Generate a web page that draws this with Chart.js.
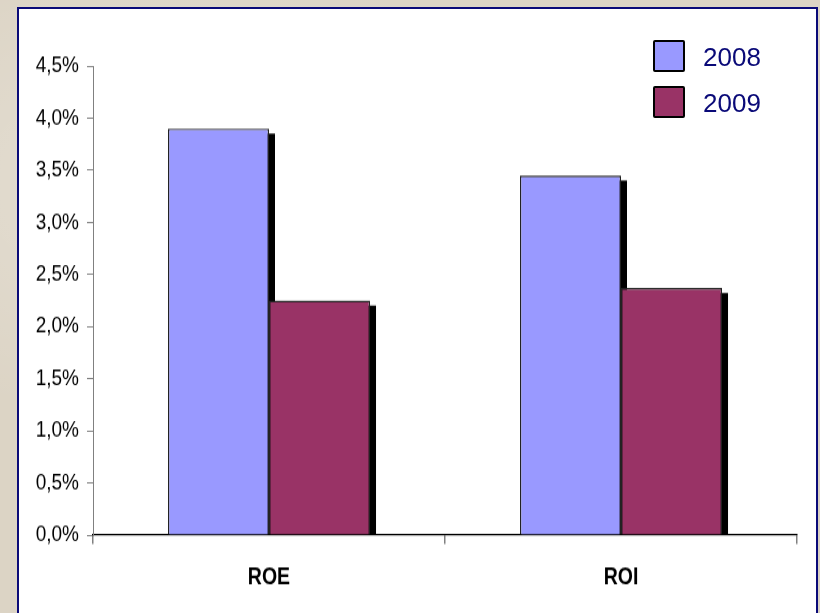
<!DOCTYPE html>
<html>
<head>
<meta charset="utf-8">
<script src="https://cdn.jsdelivr.net/npm/chart.js@4"></script>
<style>
  html, body { margin: 0; padding: 0; }
  body {
    width: 820px; height: 613px; overflow: hidden; position: relative;
    background-color: #dcd4c5;
    background-image:
      radial-gradient(ellipse at 20% 30%, rgba(255,255,255,0.25) 0, rgba(255,255,255,0) 40%),
      radial-gradient(ellipse at 70% 80%, rgba(180,170,150,0.25) 0, rgba(180,170,150,0) 45%);
  }
  #panel {
    position: absolute; left: 17px; top: 7px; width: 801px; height: 620px;
    background: #ffffff; border: 2px solid #0a0a78; box-sizing: border-box;
  }
  #wrap {
    position: absolute; left: 0; top: 0; width: 820px; height: 511px;
    transform: scaleY(1.19961); transform-origin: 0 0;
  }
  #legend { position: absolute; left: 653px; top: 40px; font-family: "Liberation Sans", Arial, sans-serif; }
  .item { position: absolute; left: 0; height: 32px; width: 150px; }
  .box { position: absolute; left: 0; top: 0; width: 28px; height: 28px; border: 2px solid #000; border-radius: 2px; }
  .lbl { position: absolute; left: 50px; top: 1px; font-size: 26px; line-height: 32px; color: #0a0a78; }
</style>
</head>
<body>
<div id="panel"></div>
<div id="wrap"><canvas id="c" width="820" height="511"></canvas></div>
<div id="legend"></div>
<script>
const categories = ["ROE", "ROI"];
const seriesNames = ["2008", "2009"];
const values2008 = [3.9, 3.45];
const values2009 = [2.25, 2.37];
const yTicks = [0, 0.5, 1, 1.5, 2, 2.5, 3, 3.5, 4, 4.5];
const colors = ["#9999ff", "#993366"];

// HTML legend
const legendEl = document.getElementById('legend');
seriesNames.forEach((name, i) => {
  const it = document.createElement('div');
  it.className = 'item';
  it.style.top = (i * 46) + 'px';
  it.innerHTML = '<div class="box" style="background:' + colors[i] + '"></div><div class="lbl">' + name + '</div>';
  legendEl.appendChild(it);
});

const shadowPlugin = {
  id: 'barShadow',
  beforeDatasetsDraw(chart) {
    const ctx = chart.ctx;
    const a = chart.chartArea;
    ctx.save();
    ctx.beginPath();
    ctx.rect(a.left, a.top - 20, a.right - a.left + 20, a.bottom - a.top + 19);
    ctx.clip();
    ctx.fillStyle = '#000';
    chart.data.datasets.forEach((ds, di) => {
      const meta = chart.getDatasetMeta(di);
      meta.data.forEach(el => {
        const p = el.getProps(['x', 'y', 'base', 'width'], true);
        const left = p.x - p.width / 2;
        ctx.fillRect(left + 6, p.y + 4.2, p.width, p.base - p.y);
      });
    });
    ctx.restore();
  }
};

const fontFam = '"Liberation Sans", Arial, sans-serif';

new Chart(document.getElementById('c'), {
  type: 'bar',
  data: {
    labels: categories,
    datasets: [
      { label: seriesNames[0], data: values2008, backgroundColor: colors[0], borderColor: '#222', borderWidth: 1.4 },
      { label: seriesNames[1], data: values2009, backgroundColor: colors[1], borderColor: '#222', borderWidth: 1.4 }
    ]
  },
  options: {
    responsive: false,
    maintainAspectRatio: false,
    animation: false,
    devicePixelRatio: 1,
    layout: { padding: { left: 0, right: 23, top: 55, bottom: 23 } },
    datasets: { bar: { categoryPercentage: 0.574, barPercentage: 1.0 } },
    plugins: { legend: { display: false }, tooltip: { enabled: false } },
    scales: {
      x: {
        afterFit(s) { s.height = 42; },
        grid: { offset: true, drawOnChartArea: false, drawTicks: true, tickLength: 7.5, color: '#808080', lineWidth: 1.5 },
        border: { display: true, color: '#000', width: 1.3 },
        ticks: { color: '#000', padding: 16, font: { family: fontFam, size: 19.5, weight: 'bold' } }
      },
      y: {
        min: 0, max: 4.5,
        afterFit(s) { s.width = 93; },
        afterBuildTicks(s) { s.ticks = yTicks.map(v => ({ value: v })); },
        grid: { drawOnChartArea: false, drawTicks: true, tickLength: 6, color: '#808080' },
        border: { display: true, color: '#808080', width: 1 },
        ticks: {
          color: '#000', padding: 8,
          font: { family: fontFam, size: 19 },
          callback: v => v.toFixed(1).replace('.', ',') + '%'
        }
      }
    }
  },
  plugins: [shadowPlugin]
});
</script>
</body>
</html>
